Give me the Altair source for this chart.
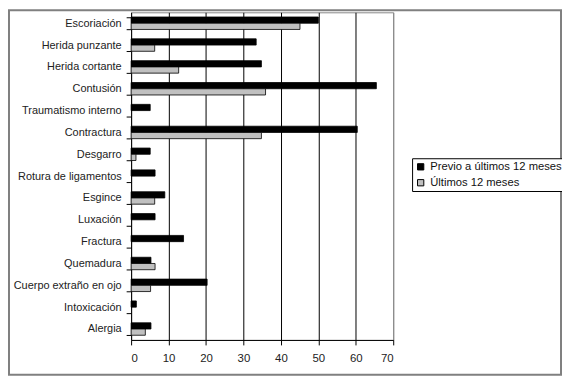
import altair as alt
import pandas as pd

categories = ["Escoriación", "Herida punzante", "Herida cortante", "Contusión",
              "Traumatismo interno", "Contractura", "Desgarro", "Rotura de ligamentos",
              "Esgince", "Luxación", "Fractura", "Quemadura", "Cuerpo extraño en ojo",
              "Intoxicación", "Alergia"]
previo = [50.0, 33.4, 34.8, 65.5, 5.1, 60.4, 5.1, 6.4, 9.0, 6.4, 14.0, 5.3, 20.3, 1.4, 5.3]
ultimos = [45.1, 6.3, 12.7, 35.9, 0, 34.8, 1.3, 0, 6.3, 0, 0, 6.4, 5.2, 0, 3.8]
series = ["Previo a últimos 12 meses", "Últimos 12 meses"]
x_ticks = [0, 10, 20, 30, 40, 50, 60, 70]

rows = []
for c, a, b in zip(categories, previo, ultimos):
    rows.append({"cat": c, "serie": series[0], "v": a})
    rows.append({"cat": c, "serie": series[1], "v": b})
df = pd.DataFrame(rows)

W, H = 264, 330
PL, PT, PR, PB = 124, 3, 170, 36
FONT = "Liberation Sans"

bars = alt.Chart(df).transform_filter("datum.v > 0").mark_bar(
    stroke="black", strokeWidth=0.8
).encode(
    y=alt.Y("cat:N", sort=categories, title=None,
            scale=alt.Scale(domain=categories, paddingInner=0.43, paddingOuter=0.215),
            axis=alt.Axis(tickBand="extent", domainColor="black", tickColor="black",
                          tickSize=5, labelPadding=5, labelFontSize=11,
                          labelColor="#222222", labelFont=FONT, grid=False)),
    yOffset=alt.YOffset("serie:N", sort=series, scale=alt.Scale(domain=series)),
    x=alt.X("v:Q", title=None,
            scale=alt.Scale(domain=[0, 70], nice=False),
            axis=alt.Axis(values=x_ticks, domainColor="black", tickColor="black",
                          tickSize=5, labelFontSize=11.5, labelColor="#222222",
                          labelFont=FONT, labelPadding=8,
                          grid=True,
                          gridColor={"condition": {"test": "datum.value >= 70 || datum.value <= 0",
                                                   "value": "#888888"},
                                     "value": "#000000"},
                          gridWidth=1)),
    color=alt.Color("serie:N", sort=series,
                    scale=alt.Scale(domain=series, range=["#000000", "#c0c0c0"]),
                    legend=alt.Legend(title=None, orient="none", legendX=283, legendY=147,
                                      strokeColor="black", fillColor="white", padding=3,
                                      symbolType="square", symbolSize=40,
                                      symbolStrokeColor="black", symbolStrokeWidth=1,
                                      labelFontSize=11.3, labelFont=FONT,
                                      labelColor="#111111", rowPadding=4,
                                      labelOffset=4, labelLimit=200)),
)

border = alt.Chart(pd.DataFrame({"a": [0]})).mark_rect(
    fill=None, stroke="#808080", strokeWidth=2, clip=False
).encode(
    x=alt.value(-PL + 1), x2=alt.value(W + PR - 1),
    y=alt.value(-PT + 1), y2=alt.value(H + PB - 1),
)

chart = alt.layer(bars, border).properties(
    width=W, height=H,
    autosize=alt.AutoSizeParams(type="none"),
    padding={"left": PL, "top": PT, "right": PR, "bottom": PB},
    background="white",
).configure_view(stroke="#888888", strokeWidth=1)

chart.save("out.html", embed_options={"renderer": "svg", "actions": False})
